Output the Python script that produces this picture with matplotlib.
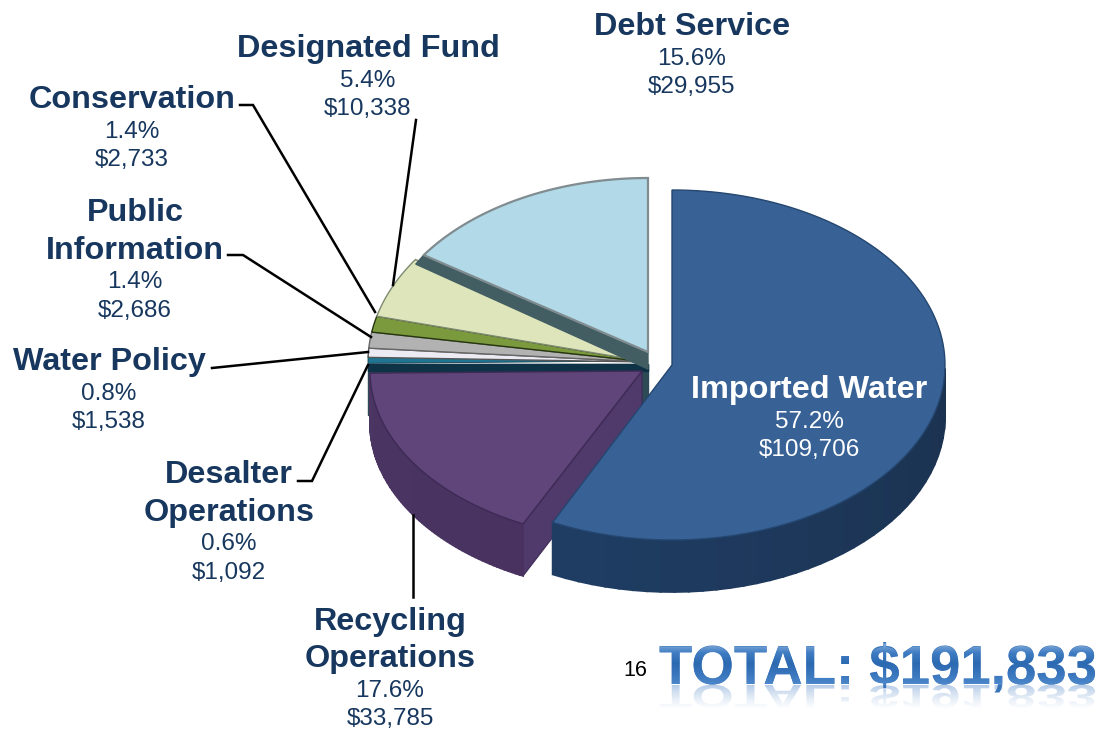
import numpy as np
import matplotlib
matplotlib.use("Agg")
import matplotlib.pyplot as plt
from matplotlib.colors import to_rgb
from matplotlib.font_manager import FontProperties
from matplotlib.patches import PathPatch
from matplotlib.textpath import TextPath
from matplotlib.transforms import Affine2D

plt.rcParams['font.family'] = ['Liberation Sans', 'DejaVu Sans']

# ====== DATA ======
categories = ["Imported Water", "Recycling\nOperations", "Desalter\nOperations", "Water Policy",
              "Public\nInformation", "Conservation", "Designated Fund", "Debt Service"]
shares = [57.2, 17.6, 0.6, 0.8, 1.4, 1.4, 5.4, 15.6]
amounts = [109706, 33785, 1092, 1538, 2686, 2733, 10338, 29955]
total = 191833
page_number = "16"

# ====== STYLE / LAYOUT ======
NAVY = "#17375e"
face_colors = ["#386296", "#5f4579", "#1f7592", "#eceaf2", "#b2b2b2", "#7b9a3e", "#dfe5bb", "#b1d9e7"]
edge_colors = ["#24466f", "#3d2a55", "#123c4c", "#555555", "#666666", "#26360f", "#7d8a70", "#808c90"]
# label centre x, y of first line (pixels)
label_pos = [(809, 390), (390, 622), (229, 475), (109, 362), (135, 213), (132, 100), (368, 49), (692, 27)]
LINE_H = 37.5
leaders = [
    [(240, 105), (253, 105), (375, 312)],
    [(416, 120), (393, 285)],
    [(228, 255), (243, 255), (371, 337)],
    [(212, 368), (368, 352)],
    [(298, 481), (312, 481), (368, 365)],
    [(413, 515), (413, 597)],
]


def rim(cx, cy, a, b, f0, f1, n=120):
    # points on the ellipse, fraction 0 = top, going clockwise
    t = 2 * np.pi * np.linspace(f0, f1, n)
    return cx + a * np.sin(t), cy - b * np.cos(t)


def face(ax, cx, cy, a, b, f0, f1, color, edge, lw=1.0, z=3):
    x, y = rim(cx, cy, a, b, f0, f1)
    ax.fill(np.r_[cx, x], np.r_[cy, y], facecolor=color, edgecolor=edge, linewidth=lw, zorder=z, joinstyle="miter")


def lerp(c0, c1, t):
    c0, c1 = np.array(to_rgb(c0)), np.array(to_rgb(c1))
    return tuple(c0 + (c1 - c0) * t)


def outer_wall(ax, cx, cy, a, b, f0, f1, depth, c0, c1, z=2, n=70):
    # outer side of the slice, only the part facing us
    x, y = rim(cx, cy, a, b, f0, f1, n + 1)
    for i in range(n):
        mid = f0 + (f1 - f0) * (i + 0.5) / n
        if mid > 0.75 or mid < 0.25:
            continue
        c = lerp(c0, c1, i / n)
        ax.fill([x[i], x[i + 1], x[i + 1], x[i]], [y[i], y[i + 1], y[i + 1] + depth, y[i] + depth],
                facecolor=c, edgecolor=c, linewidth=1.3, zorder=z)


def gradient_image(stops, alpha=None, n=64):
    pos = np.linspace(0, 1, len(stops))
    rgb = np.array([to_rgb(s) for s in stops])
    t = np.linspace(0, 1, n)
    img = np.ones((n, 1, 4))
    for k in range(3):
        img[:, 0, k] = np.interp(t, pos, rgb[:, k])
    if alpha is not None:
        img[:, 0, 3] = np.interp(t, [0, 1], alpha)
    return img


fig = plt.figure(figsize=(11.04, 7.29), dpi=100)
ax = fig.add_axes([0, 0, 1, 1])

fr = np.cumsum([0] + shares) / sum(shares)

# back group of small slices + debt service
bx, by, ba, bb = 648, 362, 280, 184
DEPTH = 52
# dark wall behind the purple and blue slices
ax.fill([367.5, 648, 648, 367.5], [364, 364, 415, 415], color="#2d4a55", zorder=1)
ax.fill([367.5, 648, 648, 367.5], [364, 364, 371, 371], color="#0f3346", zorder=1.1)
for i in range(2, 8):
    f0, f1 = fr[i], fr[i + 1]
    if i == 2:
        # desalter sits just above the dark band
        face(ax, bx, by - 1, ba, bb, f0, f1, face_colors[i], edge_colors[i], 0.6, z=2 + i * 0.1)
    elif i == 7:
        # debt slice is lifted a little, its cut side shows under it
        x, y = rim(bx, 352, 270, 174, f0, f1)
        ax.fill([x[0], bx, bx, x[0] - 8], [y[0], 352, 369, y[0] + 9], color="#425e63", zorder=2.6)
        face(ax, bx, 352, 270, 174, f0, f1, face_colors[i], edge_colors[i], 1.6, z=2.8)
    else:
        face(ax, bx, by, ba, bb, f0, f1, face_colors[i], edge_colors[i], 1.0, z=2 + i * 0.1)

# recycling slice
px, py, pa, pb = 642, 371, 272, 170
x, y = rim(px, py, pa, pb, fr[1], fr[2])
ax.fill([x[0], px, px, x[0]], [y[0], py, py + 50, y[0] + 52], facecolor="#503a6c", edgecolor="#3d2a55",
        linewidth=0.8, zorder=3)
outer_wall(ax, px, py, pa, pb, fr[1], fr[2], 52, "#49325f", "#4a3563", z=3)
face(ax, px, py, pa, pb, fr[1], fr[2], face_colors[1], edge_colors[1], 1.0, z=3.5)

# imported water slice
cx, cy, ca, cb = 672, 365, 273, 175
outer_wall(ax, cx, cy, ca, cb, fr[0], fr[1], DEPTH, "#18293f", "#1f3d64", z=4)
face(ax, cx, cy, ca, cb, fr[0], fr[1], face_colors[0], edge_colors[0], 1.0, z=4.5)

# leader lines
for pts in leaders:
    xs, ys = zip(*pts)
    ax.plot(xs, ys, color="black", lw=1.8, zorder=6, solid_joinstyle="miter")

# labels
for name, share, amount, (lx, ly) in zip(categories, shares, amounts, label_pos):
    color = "white" if name == "Imported Water" else NAVY
    yy = ly
    for part in name.split("\n"):
        ax.text(lx, yy, part, ha="center", va="center", fontsize=23.3, fontweight="bold", color=color, zorder=7)
        yy += LINE_H
    yy -= 6
    ax.text(lx, yy, f"{share:.1f}%", ha="center", va="center", fontsize=17.5, color=color, zorder=7)
    ax.text(lx, yy + 28.5, f"${amount:,}", ha="center", va="center", fontsize=17.5, color=color, zorder=7)

ax.text(635, 670, page_number, ha="center", va="center", fontsize=15.5, color="black", zorder=7)

# total banner: real text, with gradient and reflection clipped on the same glyphs
total_str = f"TOTAL: ${total:,}"
fp = FontProperties(family="Liberation Sans", weight="bold")
TX, TY, TPX = 659, 684, 54.6
ax.text(TX, TY, total_str, ha="left", va="baseline", fontproperties=fp, fontsize=TPX * 0.72,
        color="#3a74b8", zorder=7)
glyphs = TextPath((0, 0), total_str, size=TPX, prop=fp)
over = PathPatch(glyphs, transform=Affine2D().scale(1, -1).translate(TX, TY) + ax.transData,
                 facecolor="none", edgecolor="none")
ax.add_patch(over)
im = ax.imshow(gradient_image(["#8db3de", "#3f7cc2", "#2b69b0", "#3a76bd", "#4d88cb"]),
               extent=(TX - 2, TX + 445, TY + 1, TY - 42), aspect="auto", zorder=8)
im.set_clip_path(over)
mirror = PathPatch(glyphs, transform=Affine2D().scale(1, 0.6).translate(TX, TY + 1) + ax.transData,
                   facecolor="none", edgecolor="none")
ax.add_patch(mirror)
rf = ax.imshow(gradient_image(["#7fa6d6", "#b9cfe8"], alpha=[0.6, 0.0]),
               extent=(TX - 2, TX + 445, TY + 26, TY), aspect="auto", zorder=6.5)
rf.set_clip_path(mirror)

ax.set_xlim(0, 1104)
ax.set_ylim(729, 0)
ax.axis("off")
fig.savefig("out.png", dpi=100, facecolor="white")
